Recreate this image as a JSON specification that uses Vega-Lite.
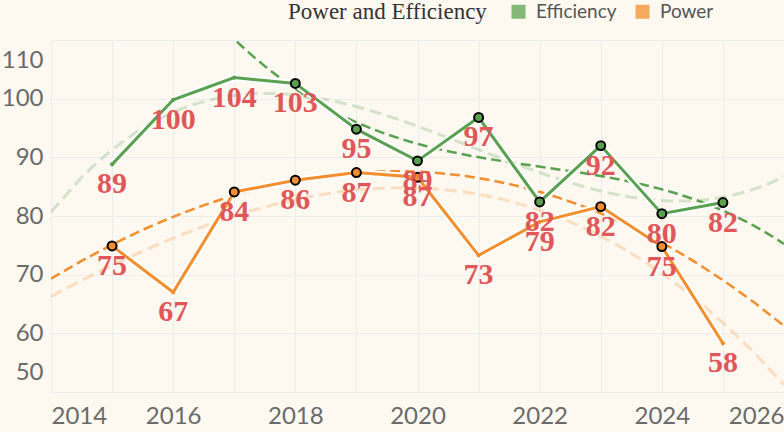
{
  "$schema": "https://vega.github.io/schema/vega-lite/v6.json",
  "width": 733,
  "height": 352,
  "autosize": {"type": "none"},
  "padding": {"left": 51, "top": 40, "right": 0, "bottom": 40},
  "background": "#fdf9f1",
  "data": {
    "values": [
      {"year": 2015, "series": "Efficiency", "value": 88.8},
      {"year": 2016, "series": "Efficiency", "value": 99.8},
      {"year": 2017, "series": "Efficiency", "value": 103.6},
      {"year": 2018, "series": "Efficiency", "value": 102.6},
      {"year": 2019, "series": "Efficiency", "value": 94.8},
      {"year": 2020, "series": "Efficiency", "value": 89.4},
      {"year": 2021, "series": "Efficiency", "value": 96.8},
      {"year": 2022, "series": "Efficiency", "value": 82.4},
      {"year": 2023, "series": "Efficiency", "value": 92.0},
      {"year": 2024, "series": "Efficiency", "value": 80.4},
      {"year": 2025, "series": "Efficiency", "value": 82.3},
      {"year": 2015, "series": "Power", "value": 74.9},
      {"year": 2016, "series": "Power", "value": 67.0},
      {"year": 2017, "series": "Power", "value": 84.1},
      {"year": 2018, "series": "Power", "value": 86.1},
      {"year": 2019, "series": "Power", "value": 87.4},
      {"year": 2020, "series": "Power", "value": 86.6},
      {"year": 2021, "series": "Power", "value": 73.3},
      {"year": 2022, "series": "Power", "value": 79.0},
      {"year": 2023, "series": "Power", "value": 81.6},
      {"year": 2024, "series": "Power", "value": 74.8},
      {"year": 2025, "series": "Power", "value": 58.3}
    ]
  },
  "encoding": {
    "x": {
      "field": "year",
      "type": "quantitative",
      "scale": {"domain": [2014, 2026], "nice": false, "zero": false},
      "axis": {
        "title": null,
        "values": [2014, 2015, 2016, 2017, 2018, 2019, 2020, 2021, 2022, 2023, 2024, 2025, 2026],
        "labelExpr": "datum.value % 2 == 0 ? format(datum.value, 'd') : ''",
        "labelFlush": true,
        "labelOverlap": false,
        "labelPadding": 12,
        "domain": false,
        "ticks": false
      }
    },
    "y": {
      "field": "value",
      "type": "quantitative",
      "scale": {"domain": [50, 110], "nice": false, "zero": false},
      "axis": {
        "title": null,
        "values": [50, 60, 70, 80, 90, 100, 110],
        "labelFlush": true,
        "labelFlushOffset": -8,
        "labelPadding": 8,
        "domain": false,
        "ticks": false
      }
    },
    "color": {
      "field": "series",
      "type": "nominal",
      "scale": {"domain": ["Efficiency", "Power"], "range": ["#59a14f", "#f28e2b"]},
      "legend": {
        "title": "Power and Efficiency",
        "orient": "none",
        "legendX": 237,
        "legendY": -38,
        "direction": "horizontal",
        "titleOrient": "left",
        "titleFont": "Liberation Serif",
        "titleFontSize": 23,
        "titleFontWeight": "normal",
        "titleColor": "#333333",
        "titleLimit": 400,
        "titlePadding": 22,
        "labelFont": "Lato",
        "labelFontSize": 19,
        "labelColor": "#555555",
        "labelOffset": 8,
        "columnPadding": 16,
        "symbolType": "square",
        "symbolSize": 196,
        "symbolOpacity": 0.75,
        "symbolStrokeWidth": 0,
        "encode": {
          "symbols": {"update": {"fill": {"scale": "color", "field": "value"}, "stroke": {"value": "transparent"}}}
        }
      }
    }
  },
  "layer": [
    {
      "transform": [
        {"regression": "value", "on": "year", "groupby": ["series"], "method": "poly", "order": 3, "extent": [2014, 2026]}
      ],
      "mark": {"type": "line", "strokeWidth": 3, "strokeDash": [12, 6], "opacity": 0.25, "clip": true},
      "encoding": {}
    },
    {
      "transform": [
        {"filter": "(datum.series == 'Efficiency' && datum.year >= 2018) || (datum.series == 'Power' && indexof([2015, 2017, 2018, 2019, 2020, 2023, 2024], datum.year) >= 0)"},
        {"regression": "value", "on": "year", "groupby": ["series"], "method": "poly", "order": 3, "extent": [2014, 2026]}
      ],
      "mark": {"type": "line", "strokeWidth": 2.5, "strokeDash": [10, 5], "clip": true},
      "encoding": {}
    },
    {
      "mark": {"type": "line", "strokeWidth": 7},
      "encoding": {"color": {"value": "white"}, "detail": {"field": "series"}}
    },
    {
      "mark": {"type": "line", "strokeWidth": 3},
      "encoding": {}
    },
    {
      "mark": {"type": "circle", "size": 18, "opacity": 1},
      "encoding": {}
    },
    {
      "transform": [
        {"filter": "(datum.series == 'Efficiency' && datum.year >= 2018) || (datum.series == 'Power' && indexof([2015, 2017, 2018, 2019, 2020, 2023, 2024], datum.year) >= 0)"}
      ],
      "mark": {"type": "point", "filled": true, "size": 80, "stroke": "black", "strokeWidth": 2, "opacity": 1},
      "encoding": {}
    },
    {
      "mark": {"type": "text", "baseline": "top", "dy": 5, "font": "Liberation Serif", "fontSize": 30, "fontWeight": "bold"},
      "encoding": {
        "text": {"field": "value", "type": "quantitative", "format": ".0f"},
        "color": {"value": "#e15759"},
        "detail": {"field": "series"}
      }
    }
  ],
  "config": {
    "view": {"stroke": null},
    "axis": {
      "labelFont": "Lato",
      "labelFontSize": 24,
      "labelColor": "#6a6a6a",
      "gridColor": "#eaecee",
      "gridWidth": 1
    }
  }
}
